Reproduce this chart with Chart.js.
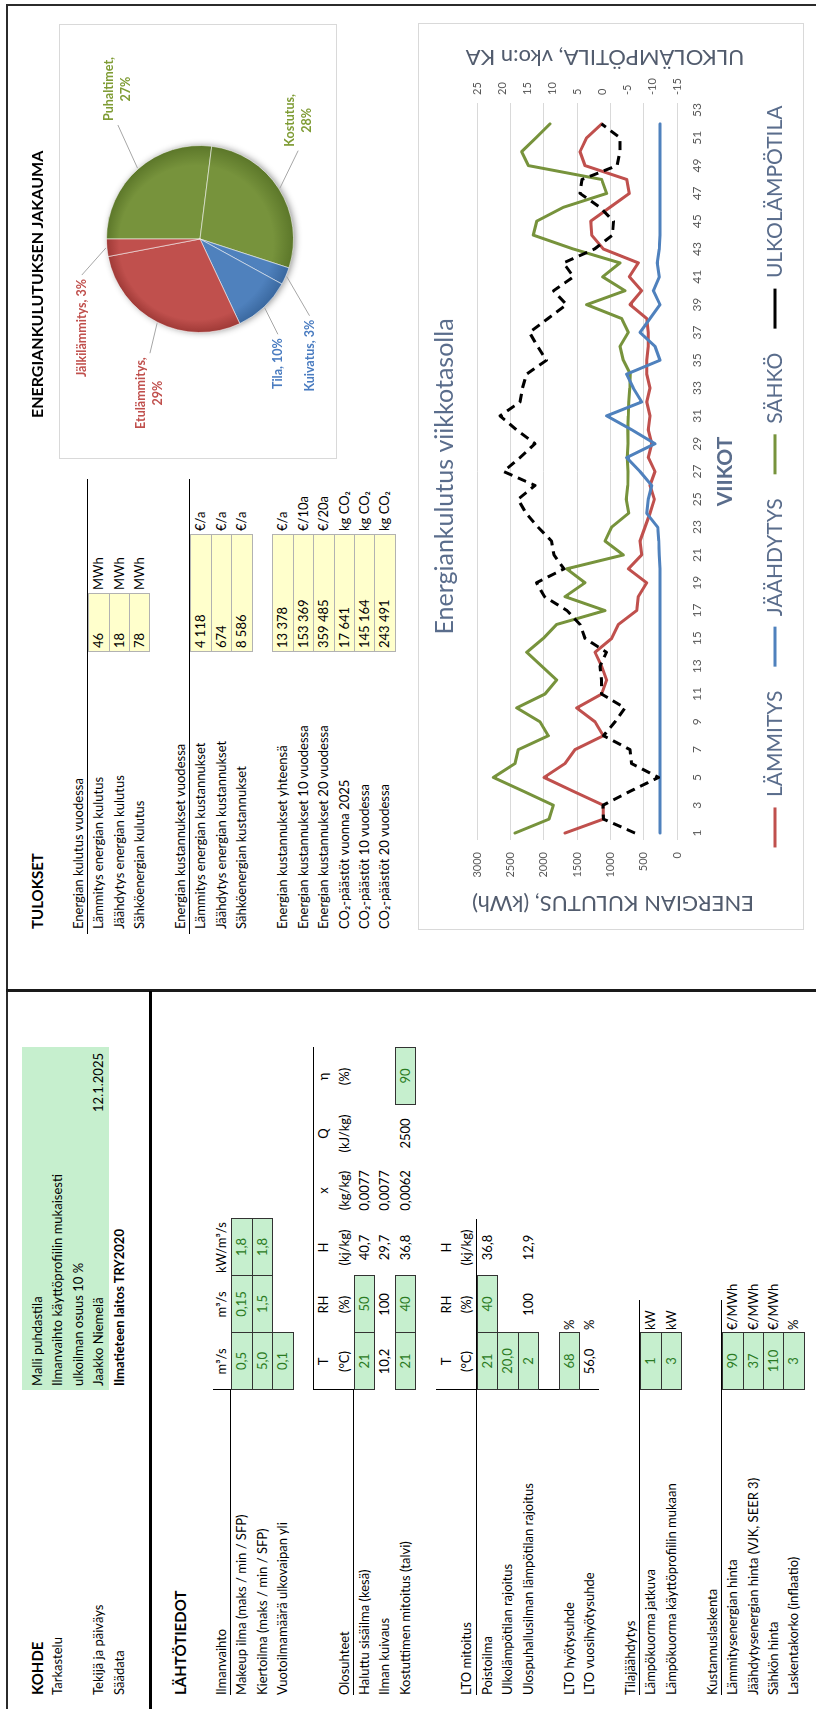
<!DOCTYPE html>
<html lang="fi">
<head>
<meta charset="utf-8">
<title>Energiankulutus – ilmanvaihto</title>
<script src="https://cdn.jsdelivr.net/npm/chart.js@4.4.1/dist/chart.umd.min.js"></script>
<style>
  html, body { margin: 0; padding: 0; background: #fff; }
  body { width: 816px; height: 1709px; overflow: hidden; position: relative; }
  /* the sheet is laid out in landscape and turned onto the portrait page */
  #page { position: absolute; left: 0; top: 0; width: 1709px; height: 816px;
          transform-origin: 0 0; transform: translateY(1709px) rotate(-90deg);
          font-family: Lato, "Open Sans", sans-serif; font-size: 13px; color: #000; background: #fff; }
  .t { position: absolute; height: 20.45px; line-height: 20.45px; white-space: nowrap; }
  .b { font-weight: bold; }
  .h { font-weight: bold; font-size: 15px; }
  .ctr { text-align: center; }
  .rt { text-align: right; }
  .box { box-sizing: border-box; height: 21.45px; line-height: 19.45px; }
  .g { background: #c6efce; border: 1px solid #333; color: #2a7a22; }
  .y { background: #ffffcc; border: 1px solid #b2b2b2; padding-left: 3px; }
  .rule { position: absolute; }
  .frame { position: absolute; box-sizing: border-box; border: 1px solid #d9d9d9; pointer-events: none; }
  canvas { position: absolute; }
</style>
</head>
<body>
<div id="page">
  <canvas id="pie" width="435" height="278" style="left:1250px;top:59px;"></canvas>
  <div class="frame" style="left:1250px;top:59px;width:435px;height:278px;"></div>
  <canvas id="weekly" width="907" height="386" style="left:779px;top:418px;"></canvas>
  <div class="frame" style="left:779px;top:418px;width:907px;height:386px;"></div>
</div>
<script>
// ---------- weekly energy use ----------
const weeks = ['1','2','3','4','5','6','7','8','9','10','11','12','13','14','15','16','17','18','19','20',
  '21','22','23','24','25','26','27','28','29','30','31','32','33','34','35','36','37','38','39','40',
  '41','42','43','44','45','46','47','48','49','50','51','52','53'];

// kWh per week
const heating = [1680, 1105, 1105, 1555, 1995, 1680, 1530, 1105, 1230, 1505,
  1130, 1055, 1130, 1230, 980, 880, 605, 580, 455, 730,
  530, 555, 480, 405, 340, 405, 330, 430, 380, 430,
  405, 455, 405, 455, 455, 430, 430, 455, 705, 530,
  715, 580, 1105, 1280, 1295, 1005, 715, 755, 1380, 1455,
  1355, 1130];
const cooling = [255, 255, 255, 255, 255, 255, 255, 255, 255, 255,
  255, 255, 255, 255, 255, 255, 255, 255, 255, 255,
  265, 275, 290, 455, 430, 380, 555, 755, 330, 680,
  1055, 530, 655, 755, 255, 330, 555, 405, 255, 355,
  265, 295, 265, 255, 255, 255, 255, 255, 255, 255,
  255, 255];
const electricity = [2430, 1920, 1855, 2300, 2755, 2430, 2380, 1930, 2055, 2405,
  1980, 1805, 2030, 2255, 2005, 1805, 1080, 1680, 1380, 1655,
  805, 1080, 980, 725, 760, 740, 735, 745, 735, 740,
  730, 725, 710, 700, 805, 855, 730, 830, 1355, 780,
  1115, 855, 1555, 2155, 2105, 1705, 1055, 1130, 2230, 2330,
  2115, 1905];
// weekly mean outdoor temperature, °C
const outdoorTemp = [-6.6, -0.3, -0.2, -5.6, -11.3, -5.9, -5.6, -0.3, -2.6, -4.6,
  0.1, 0.1, 0.4, -0.9, 3.4, 4.4, 7.0, 11.5, 13.1, 7.6,
  9.6, 10.1, 12.8, 15.2, 16.8, 13.4, 19.7, 16.4, 13.4, 17.1,
  20.4, 16.4, 15.9, 15.1, 11.1, 12.9, 14.5, 10.8, 7.1, 9.7,
  5.7, 7.7, 1.5, -2.1, -2.3, 0.4, 4.4, 4.0, -3.0, -3.6,
  -3.6, 0.1];

// ---------- annual energy split, % ----------
const pieLabels = ['Puhaltimet', 'Kostutus', 'Kuivatus', 'Tila', 'Etulämmitys', 'Jälkilämmitys'];
const pieShares = [27, 28, 3, 10, 29, 3];

const FONT = 'Lato, "Open Sans", sans-serif';
Chart.defaults.font.family = FONT;

// ---------- sheet text ----------
const page = document.getElementById('page');
const R0 = 26.8, RH = 20.45;
const rowTop = k => R0 + RH * k;
const COL = { C: 319, D: 376, E: 433, F: 490, G: 547, H: 604 };
const CW = 57;

function cell(cls, x, k, txt, w, extra) {
  const d = document.createElement('div');
  d.className = 't ' + (cls || '');
  d.style.left = x + 'px';
  d.style.top = rowTop(k) + 'px';
  if (w) d.style.width = w + 'px';
  if (txt != null) d.textContent = txt;
  if (extra) Object.assign(d.style, extra);
  page.appendChild(d);
  return d;
}
function rule(x, y, w, h, color) {
  const d = document.createElement('div');
  d.className = 'rule';
  Object.assign(d.style, { left: x + 'px', top: y + 'px', width: w + 'px', height: h + 'px', background: color || '#000' });
  page.appendChild(d);
}
function val(col, k, txt, green) {
  if (green) cell('box g ctr', COL[col], k, txt, CW + 1);
  else cell('ctr', COL[col], k, txt, CW);
}
function unit(col, k, txt) { cell('', COL[col] + 3, k, txt); }

// page frame and section dividers
rule(0, 6, 1705, 2, '#2b2b2b');
rule(1703, 6, 2, 810, '#2b2b2b');
rule(717, 6, 3, 810, '#1a1a1a');
rule(0, 149, 718, 3, '#000');

// KOHDE
const LX = 14;
rule(COL.C, rowTop(0) - 5, 343, RH * 4 + 5, '#c6efce');
cell('h', LX, 0, 'KOHDE');
cell('', COL.C + 4, 0, 'Malli puhdastila');
cell('', LX, 1, 'Tarkastelu');
cell('', COL.C + 4, 1, 'Ilmanvaihto käyttöprofiilin mukaisesti');
cell('', COL.C + 4, 2, 'ulkoilman osuus 10 %');
cell('', LX, 3, 'Tekijä ja päiväys');
cell('', COL.C + 4, 3, 'Jaakko Niemelä');
cell('rt', 540, 3, '12.1.2025', 116);
cell('', LX, 4, 'Säädata');
cell('b', COL.C + 4, 4, 'Ilmatieteen laitos TRY2020');

// LÄHTÖTIEDOT
cell('h', LX, 7, 'LÄHTÖTIEDOT');

cell('', LX, 9, 'Ilmanvaihto');
val('C', 9, 'm³/s'); val('D', 9, 'm³/s'); val('E', 9, 'kW/m³/s');
rule(LX, rowTop(10) - 1, COL.C - LX, 1);
rule(COL.C, rowTop(9) + 2, 1, RH - 2);
cell('', LX, 10, 'Makeup ilma (maks / min / SFP)');
val('C', 10, '0,5', true); val('D', 10, '0,15', true); val('E', 10, '1,8', true);
cell('', LX, 11, 'Kiertoilma (maks / min / SFP)');
val('C', 11, '5,0', true); val('D', 11, '1,5', true); val('E', 11, '1,8', true);
cell('', LX, 12, 'Vuotoilmamäärä ulkovaipan yli');
val('C', 12, '0,1', true);

['T', 'RH', 'H', 'x', 'Q', 'η'].forEach((s, i) => val('CDEFGH'[i], 14, s));
cell('', LX, 15, 'Olosuhteet');
['(°C)', '(%)', '(kj/kg)', '(kg/kg)', '(kJ/kg)', '(%)'].forEach((s, i) => val('CDEFGH'[i], 15, s));
rule(LX, rowTop(16) - 1, COL.C - LX, 1);
rule(COL.C, rowTop(14), 1, RH * 2);
rule(COL.C, rowTop(14), 343, 1);
cell('', LX, 16, 'Haluttu sisäilma (kesä)');
val('C', 16, '21', true); val('D', 16, '50', true); val('E', 16, '40,7'); val('F', 16, '0,0077');
cell('', LX, 17, 'Ilman kuivaus');
val('C', 17, '10,2'); val('D', 17, '100'); val('E', 17, '29,7'); val('F', 17, '0,0077');
cell('', LX, 18, 'Kostuttimen mitoitus (talvi)');
val('C', 18, '21', true); val('D', 18, '40', true); val('E', 18, '36,8'); val('F', 18, '0,0062');
val('G', 18, '2500'); val('H', 18, '90', true);

['T', 'RH', 'H'].forEach((s, i) => val('CDE'[i], 20, s));
cell('', LX, 21, 'LTO mitoitus');
['(°C)', '(%)', '(kj/kg)'].forEach((s, i) => val('CDE'[i], 21, s));
rule(LX, rowTop(22) - 1, COL.F - LX, 1);
rule(COL.C, rowTop(20), 1, RH * 8);
cell('', LX, 22, 'Poistoilma');
val('C', 22, '21', true); val('D', 22, '40', true); val('E', 22, '36,8');
cell('', LX, 23, 'Ulkolämpötilan rajoitus');
val('C', 23, '20,0', true);
cell('', LX, 24, 'Ulospuhallusilman lämpötilan rajoitus');
val('C', 24, '2', true); val('D', 24, '100'); val('E', 24, '12,9');
cell('', LX, 26, 'LTO hyötysuhde');
val('C', 26, '68', true); unit('D', 26, '%');
cell('', LX, 27, 'LTO vuosihyötysuhde');
val('C', 27, '56,0'); unit('D', 27, '%');

cell('', LX, 29, 'Tilajäähdytys');
rule(LX, rowTop(30) - 1, COL.D + 33 - LX, 1);
cell('', LX, 30, 'Lämpökuorma jatkuva');
val('C', 30, '1', true); unit('D', 30, 'kW');
cell('', LX, 31, 'Lämpökuorma käyttöprofiilin mukaan');
val('C', 31, '3', true); unit('D', 31, 'kW');

cell('', LX, 33, 'Kustannuslaskenta');
rule(LX, rowTop(34) - 1, COL.D + 33 - LX, 1);
cell('', LX, 34, 'Lämmitysenergian hinta');
val('C', 34, '90', true); unit('D', 34, '€/MWh');
cell('', LX, 35, 'Jäähdytysenergian hinta (VJK, SEER 3)');
val('C', 35, '37', true); unit('D', 35, '€/MWh');
cell('', LX, 36, 'Sähkön hinta');
val('C', 36, '110', true); unit('D', 36, '€/MWh');
cell('', LX, 37, 'Laskentakorko (inflaatio)');
val('C', 37, '3', true); unit('D', 37, '%');

// TULOKSET
const TX = 780, VX = 1057, U1 = 1119, U2 = 1178;
cell('h', TX, 0, 'TULOKSET');
cell('', TX, 2, 'Energian kulutus vuodessa');
rule(775, rowTop(3) - 1, 455, 1);
[['Lämmitys energian kulutus', '46'], ['Jäähdytys energian kulutus', '18'], ['Sähköenergian kulutus', '78']]
  .forEach(([l, v], i) => { cell('', TX, 3 + i, l); cell('box y', VX, 3 + i, v, 59); cell('', U1, 3 + i, 'MWh'); });
cell('', TX, 7, 'Energian kustannukset vuodessa');
rule(775, rowTop(8) - 1, 455, 1);
[['Lämmitys energian kustannukset', '4 118'], ['Jäähdytys energian kustannukset', '674'], ['Sähköenergian kustannukset', '8 586']]
  .forEach(([l, v], i) => { cell('', TX, 8 + i, l); cell('box y', VX, 8 + i, v, 118); cell('', U2, 8 + i, '€/a'); });
[['Energian kustannukset yhteensä', '13 378', '€/a'],
 ['Energian kustannukset 10 vuodessa', '153 369', '€/10a'],
 ['Energian kustannukset 20 vuodessa', '359 485', '€/20a'],
 ['CO₂-päästöt vuonna 2025', '17 641', 'kg CO₂'],
 ['CO₂-päästöt 10 vuodessa', '145 164', 'kg CO₂'],
 ['CO₂-päästöt 20 vuodessa', '243 491', 'kg CO₂']]
  .forEach(([l, v, u], i) => { cell('', TX, 12 + i, l); cell('box y', VX, 12 + i, v, 118); cell('', U2, 12 + i, u); });

cell('h', 1291, 0, 'ENERGIANKULUTUKSEN JAKAUMA', null, { fontSize: '16px' });

// ---------- pie: energy split ----------
const sliceBase = ['#77933C', '#77933C', '#4F81BD', '#4F81BD', '#C0504D', '#C0504D'];
const sliceRim = ['#5b7629', '#5b7629', '#39679e', '#39679e', '#9e3936', '#9e3936'];
const sliceText = ['#7f9c35', '#7f9c35', '#4a7cc0', '#4a7cc0', '#c0504d', '#c0504d'];

const pieShadow = {
  id: 'pieShadow',
  beforeDatasetsDraw(chart) {
    const arc = chart.getDatasetMeta(0).data[0];
    if (!arc) return;
    const { x, y, outerRadius } = arc.getProps(['x', 'y', 'outerRadius'], true);
    const ctx = chart.ctx;
    ctx.save();
    ctx.shadowColor = 'rgba(0,0,0,0.45)';
    ctx.shadowBlur = 7;
    ctx.shadowOffsetY = 2;
    ctx.beginPath();
    ctx.arc(x, y, outerRadius - 0.5, 0, Math.PI * 2);
    ctx.fillStyle = '#6a6a6a';
    ctx.fill();
    ctx.restore();
  }
};

const pieCallouts = {
  id: 'pieCallouts',
  afterDatasetsDraw(chart, args, opts) {
    const ctx = chart.ctx;
    const meta = chart.getDatasetMeta(0);
    ctx.save();
    ctx.font = 'bold 12.5px ' + FONT;
    ctx.textAlign = 'center';
    ctx.textBaseline = 'middle';
    meta.data.forEach((arc, i) => {
      const p = arc.getProps(['x', 'y', 'startAngle', 'endAngle', 'outerRadius'], true);
      const mid = (p.startAngle + p.endAngle) / 2;
      const name = chart.data.labels[i];
      const share = chart.data.datasets[0].data[i];
      const lines = opts.wrap.includes(name) ? [name + ',', share + '%'] : [name + ', ' + share + '%'];
      const a = mid + opts.turn[i] * Math.PI / 180;
      const ax = p.x + Math.cos(a) * opts.reach[i];
      const ay = p.y + Math.sin(a) * opts.reach[i];
      const bw = Math.max(...lines.map(s => ctx.measureText(s).width));
      const lh = 17;
      // leader line from the rim to the label
      const rx = p.x + Math.cos(mid) * (p.outerRadius + 1);
      const ry = p.y + Math.sin(mid) * (p.outerRadius + 1);
      const ex = ax > p.x ? ax - bw / 2 - 4 : ax + bw / 2 + 4;
      ctx.strokeStyle = '#a6a6a6';
      ctx.lineWidth = 1;
      ctx.beginPath();
      ctx.moveTo(rx, ry);
      ctx.lineTo(ex, ay);
      ctx.stroke();
      ctx.fillStyle = opts.colors[i];
      lines.forEach((s, j) => ctx.fillText(s, ax, ay + (j - (lines.length - 1) / 2) * lh));
    });
    ctx.restore();
  }
};

new Chart(document.getElementById('pie'), {
  type: 'pie',
  data: {
    labels: pieLabels,
    datasets: [{
      data: pieShares,
      backgroundColor: (c) => {
        const chart = c.chart, a = chart.chartArea, i = c.dataIndex;
        if (!a || i == null) return sliceBase[i || 0];
        const cx = (a.left + a.right) / 2, cy = (a.top + a.bottom) / 2;
        const r = Math.min(a.right - a.left, a.bottom - a.top) / 2;
        const g = chart.ctx.createRadialGradient(cx - r * 0.2, cy - r * 0.2, r * 0.1, cx, cy, r);
        g.addColorStop(0, sliceBase[i]);
        g.addColorStop(0.8, sliceBase[i]);
        g.addColorStop(1, sliceRim[i]);
        return g;
      },
      borderColor: 'rgba(255,255,255,0.55)',
      borderWidth: 1
    }]
  },
  options: {
    responsive: false,
    animation: false,
    layout: { padding: { left: 126, right: 121, top: 47, bottom: 43 } },
    plugins: {
      legend: { display: false },
      tooltip: { enabled: false },
      pieCallouts: {
        wrap: ['Puhaltimet', 'Kostutus', 'Etulämmitys'],
        turn: [12.7, -18, 23.4, 11.2, -9, -31.6],
        reach: [171, 154, 160, 147, 162, 148],
        colors: sliceText
      }
    }
  },
  plugins: [pieShadow, pieCallouts]
});

// ---------- line chart: weekly energy ----------
const titleBlue = '#5a6d8c';
const axisTitles = {
  id: 'axisTitles',
  afterDraw(chart, args, o) {
    const { ctx, chartArea: a } = chart;
    ctx.save();
    ctx.textAlign = 'center';
    ctx.textBaseline = 'middle';
    ctx.fillStyle = o.color;
    ctx.font = '22px ' + FONT;
    ctx.save();
    ctx.translate(a.left - 63, a.top + 136);
    ctx.rotate(-Math.PI / 2);
    ctx.fillText(o.left, 0, 0);
    ctx.restore();
    ctx.save();
    ctx.translate(a.right + 46, a.top + 128);
    ctx.rotate(-Math.PI / 2);
    ctx.fillText(o.right, 0, 0);
    ctx.restore();
    ctx.fillStyle = o.xColor;
    ctx.font = 'bold 21px ' + FONT;
    ctx.fillText(o.x, (a.left + a.right) / 2, a.bottom + 48);
    ctx.restore();
  }
};

const lineStyle = { borderWidth: 3, pointRadius: 0, pointHoverRadius: 0, tension: 0, borderJoinStyle: 'round', borderCapStyle: 'round', fill: false };

new Chart(document.getElementById('weekly'), {
  type: 'line',
  data: {
    labels: weeks,
    datasets: [
      { ...lineStyle, label: 'LÄMMITYS', data: heating, borderColor: '#C0504D', backgroundColor: '#C0504D', yAxisID: 'y', order: 3 },
      { ...lineStyle, label: 'JÄÄHDYTYS', data: cooling, borderColor: '#4F81BD', backgroundColor: '#4F81BD', yAxisID: 'y', order: 2 },
      { ...lineStyle, label: 'SÄHKÖ', data: electricity, borderColor: '#77933C', backgroundColor: '#77933C', yAxisID: 'y', order: 4 },
      { ...lineStyle, label: 'ULKOLÄMPÖTILA', data: outdoorTemp, borderColor: '#000', backgroundColor: '#000', borderDash: [9, 6], borderCapStyle: 'butt', yAxisID: 'y1', order: 1 }
    ]
  },
  options: {
    responsive: false,
    animation: false,
    layout: { padding: { left: 0, right: 0, top: 0, bottom: 8.5 } },
    plugins: {
      title: { display: true, text: 'Energiankulutus viikkotasolla', color: titleBlue,
               font: { size: 25, weight: 'normal' }, padding: { top: 12, bottom: 17 } },
      legend: { position: 'bottom',
                labels: { usePointStyle: true, pointStyle: 'line', pointStyleWidth: 40,
                          color: titleBlue, font: { size: 21 }, padding: 24,
                          sort: (a, b) => a.datasetIndex - b.datasetIndex } },
      tooltip: { enabled: false },
      axisTitles: { left: 'ENERGIAN KULUTUS, (kWh)', right: 'ULKOLÄMPÖTILA, vko:n KA', x: 'VIIKOT',
                    color: '#525c6e', xColor: titleBlue }
    },
    scales: {
      x: {
        offset: true,
        grid: { display: false, drawTicks: false },
        border: { display: false },
        ticks: { autoSkip: false, maxRotation: 0, minRotation: 0, padding: 13, color: '#595959', font: { size: 12 },
                 callback: function (v, i) { return i % 2 === 0 ? this.getLabelForValue(v) : ''; } },
        afterFit: s => { s.height = 63.5; s.paddingLeft = 0; s.paddingRight = 0; }
      },
      y: {
        position: 'left', min: 0, max: 3000,
        grid: { color: '#d9d9d9', drawTicks: false },
        border: { display: false },
        ticks: { stepSize: 500, padding: 12, color: '#595959', font: { size: 11 }, callback: v => String(v) },
        afterFit: s => { s.width = 90; }
      },
      y1: {
        position: 'right', min: -15, max: 25,
        grid: { display: false, drawTicks: false },
        border: { display: false },
        ticks: { stepSize: 5, padding: 8, color: '#595959', font: { size: 11 }, callback: v => String(v) },
        afterFit: s => { s.width = 80; }
      }
    }
  },
  plugins: [axisTitles]
});
</script>
</body>
</html>
